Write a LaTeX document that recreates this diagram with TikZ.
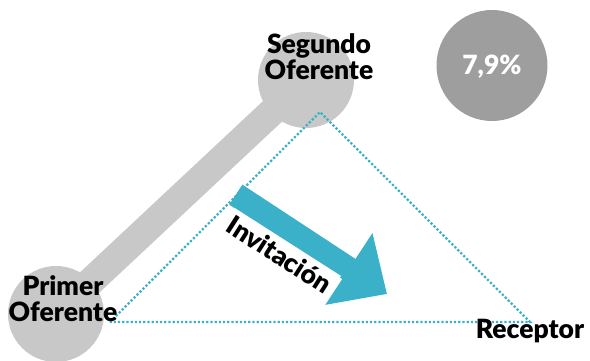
\documentclass[tikz,border=0pt]{standalone}
\usepackage{fontspec}
\setmainfont{Lato}[BoldFont={Lato Black}]
\usepackage{tikz}
\usetikzlibrary{arrows.meta}
\definecolor{gris}{HTML}{C8C8C8}
\definecolor{grisosc}{HTML}{9E9E9E}
\definecolor{turq}{HTML}{3BB0C9}

\begin{document}
\begin{tikzpicture}[x=1pt,y=1pt,font=\fontsize{26.5}{26.5}\bfseries,
     circ/.style={circle,fill=gris,minimum size=96pt,inner sep=0pt},
     lbl/.style={align=center,anchor=base,inner sep=0pt},
     tri/.style={turq,line width=2.2pt,dash pattern=on 2.2pt off 2pt},
     flecha/.style={turq,line width=24pt,-{Triangle[length=45.6pt,width=83pt]}}]
    \useasboundingbox (0,0) rectangle (590,361);
    \node[circ](segc) at (306,281){}; \node[circ](primc) at (56,47){};
    \draw[gris,line width=28pt](primc.center)--(segc.center);
    \node[circ,fill=grisosc,minimum size=111pt](pctc) at (492,295.5){};
    \coordinate (t1) at (110,39); \coordinate (t2) at (320,249); \coordinate (t3) at (530,39);
    \draw[tri](t1)--(t2)--(t3)--cycle;
    \coordinate (inv-s) at (235.8,166.3); \coordinate (inv-e) at (387,67);
    \draw[flecha](inv-s)--(inv-e);
    \node[fill=white,rotate=-32.6,inner xsep=4pt,inner ysep=5pt](inv) at (279.5,106.5){Invitación};
    \node[lbl](seg) at (319,281){Segundo\\Oferente};
    \node[lbl](prim) at (63,39){Primer\\Oferente};
    \node[lbl,text=white](pct) at (492,286){7,9\%};
    \node[lbl](rec) at (530,22){Receptor};
  \end{tikzpicture}
\end{document}
